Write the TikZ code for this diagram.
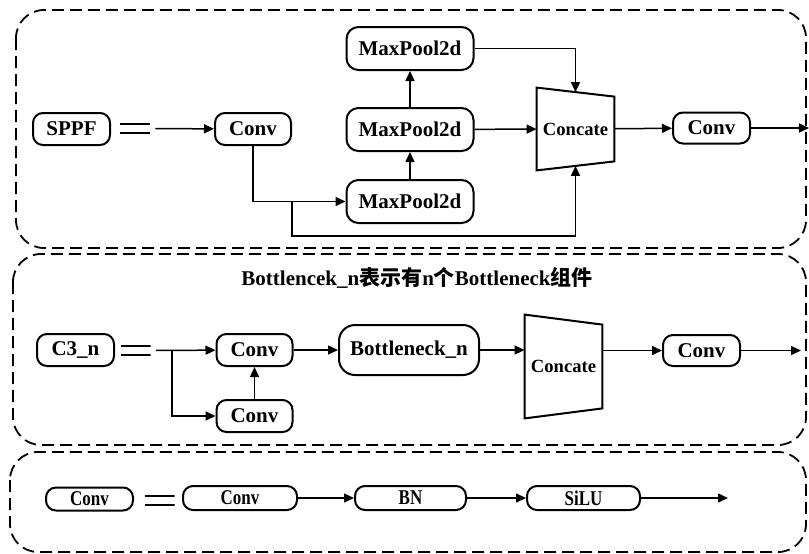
\documentclass[tikz,border=0pt]{standalone}
\usepackage{fontspec}
\setmainfont{Liberation Serif}
\newfontfamily\cjk{Noto Sans CJK SC}
\newfontfamily\narrowserif[FakeStretch=0.81]{Liberation Serif}
\usetikzlibrary{arrows.meta,positioning}

% trapezoid outline round a concat node, right side shrunk by #2
\newcommand\trapframe[2]{%
  \draw[line width=1pt] (#1.north west) -- ([yshift=-#2]#1.north east)
    -- ([yshift=#2]#1.south east) -- (#1.south west) -- cycle;}

\begin{document}
\begin{tikzpicture}[
  x=0.5pt, y=-0.5pt,
  box/.style={draw, line width=1pt, rounded corners=5pt, inner sep=2pt,
    minimum width=38pt, minimum height=16pt,
    font=\fontsize{10.5}{12}\selectfont\bfseries},
  pool/.style={box, rounded corners=6pt, minimum width=63.5pt, minimum height=21.5pt},
  flat/.style={box, inner sep=1pt, minimum width=57pt, minimum height=12pt,
    font=\fontsize{10.5}{12}\selectfont\narrowserif\bfseries},
  catbox/.style={inner sep=0pt, minimum width=38.5pt,
    font=\fontsize{9.3}{11}\selectfont\bfseries},
  eqsign/.style={inner sep=0pt, minimum width=15pt, minimum height=8pt,
    path picture={\draw[line width=1pt]
      ([yshift=2.25pt]path picture bounding box.west) -- ([yshift=2.25pt]path picture bounding box.east)
      ([yshift=-2.25pt]path picture bounding box.west) -- ([yshift=-2.25pt]path picture bounding box.east);}},
  arrow/.style={-{Triangle[length=5pt,width=4.5pt]}, line width=0.75pt},
  group/.style={draw, line width=0.9pt, dash pattern=on 6pt off 3pt, rounded corners=14pt}
]
\useasboundingbox (0,0) rectangle (809,553);

% frames
\draw[group] (16,10) rectangle (806,248);
\draw[group] (13,254) rectangle (806,445);
\draw[group] (10,452) rectangle (806,552);

% SPPF
\node[box, minimum width=38.5pt] (sppf) at (71.5,129) {SPPF};
\node[eqsign] (eq1) at (135,128.5) {};
\node[box] (conv1) at (253,129) {Conv};
\node[pool] (mp2) at (410,129.5) {MaxPool2d};
\node[pool] (mp3) at (410,48.5) {MaxPool2d};
\node[pool] (mp1) at (410,201.5) {MaxPool2d};
\node[catbox, minimum height=41pt] (cat1) at (575.5,129) {Concate};
\trapframe{cat1}{4.5pt}
\node[box, minimum width=38.5pt, minimum height=15.5pt] (conv2) at (711.5,128) {Conv};
\coordinate (br1) at (292,201.5);
\coordinate[right=29pt of conv2] (out1);

\draw[arrow, shorten <=2.5pt] (eq1) -- (conv1);
\draw[arrow] (conv1) |- (mp1);
\draw[arrow] (br1) -- ++(0,34.5) -| ([yshift=2.25pt]cat1.south);
\draw[arrow] (mp1) -- (mp2);
\draw[arrow] (mp2) -- (mp3);
\draw[arrow] (mp2) -- (cat1);
\draw[arrow] (mp3) -| ([yshift=-2.25pt]cat1.north);
\draw[arrow] (cat1) -- (conv2);
\draw[arrow] (conv2) -- (out1);

% C3_n
\node[font=\fontsize{10.5}{12}\selectfont\bfseries] (title) at (417,278)
  {Bottlencek\_n{\cjk 表示有}n{\cjk 个}Bottleneck{\cjk 组件}};
\node[box, minimum width=38.5pt] (c3) at (75.5,350) {C3\_n};
\node[eqsign] (eq2) at (135.5,350.5) {};
\node[box] (conv3) at (254.5,350) {Conv};
\node[box] (conv4) at (254.5,416) {Conv};
\node[box, rounded corners=8pt, minimum width=70pt, minimum height=25pt] (bneck) at (409,350) {Bottleneck\_n};
\node[catbox, minimum height=51.5pt] (cat2) at (563.5,366.5) {Concate};
\trapframe{cat2}{5pt}
\node[box, minimum width=38.5pt, minimum height=15.5pt] (conv5) at (701.5,350.5) {Conv};
\coordinate (br2) at (172,350);
\coordinate[right=30pt of conv5] (out2);

\draw[arrow, shorten <=2.5pt] (eq2) -- (conv3);
\draw[arrow] (br2) |- (conv4);
\draw[arrow] (conv4) -- (conv3);
\draw[arrow] (conv3) -- (bneck);
\draw[arrow] (bneck) -- (bneck -| cat2.west);
\draw[arrow] (conv5 -| cat2.east) -- (conv5);
\draw[arrow] (conv5) -- (out2);

% Conv
\node[flat, minimum width=43.5pt, minimum height=11.5pt] (convdef) at (89.5,499) {Conv};
\node[eqsign] (eq3) at (159.5,500) {};
\node[flat] (conva) at (240,498) {Conv};
\node[flat, minimum width=55.5pt] (bn) at (410.5,498) {BN};
\node[flat, minimum width=56.5pt] (silu) at (583.5,498) {SiLU};
\coordinate[right=43.5pt of silu] (out3);

\draw[arrow] (conva) -- (bn);
\draw[arrow] (bn) -- (silu);
\draw[arrow] (silu) -- (out3);
\end{tikzpicture}
\end{document}
